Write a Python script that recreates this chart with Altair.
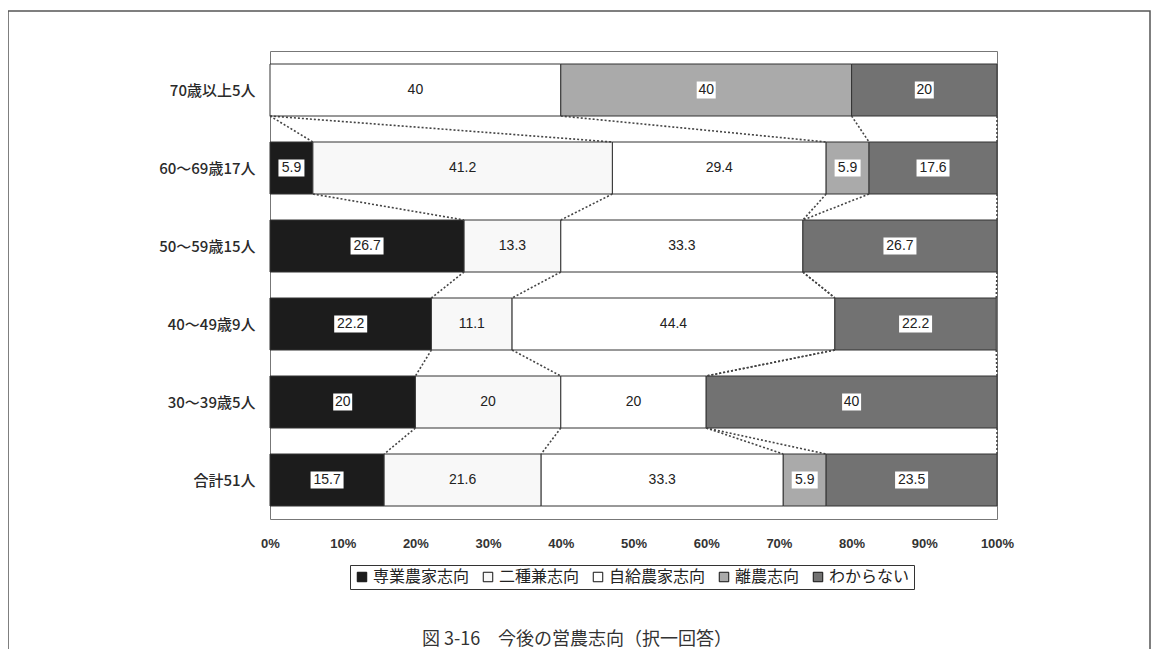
import altair as alt
import pandas as pd

categories = ["70歳以上5人", "60～69歳17人", "50～59歳15人", "40～49歳9人", "30～39歳5人", "合計51人"]
series = ["専業農家志向", "二種兼志向", "自給農家志向", "離農志向", "わからない"]
senju = [0, 5.9, 26.7, 22.2, 20, 15.7]
nishu = [0, 41.2, 13.3, 11.1, 20, 21.6]
jikyu = [40, 29.4, 33.3, 44.4, 20, 33.3]
rino = [40, 5.9, 0, 0, 0, 5.9]
wakaranai = [20, 17.6, 26.7, 22.2, 40, 23.5]
colors = ["#1c1c1c", "#f8f8f8", "#ffffff", "#aaaaaa", "#727272"]
boxed = ["専業農家志向", "離農志向", "わからない"]
ticks = list(range(0, 101, 10))
caption = "図 3-16　今後の営農志向（択一回答）"

values = [senju, nishu, jikyu, rino, wakaranai]
HALF = 1 / 3

rows = []
ends = []
for i, cat in enumerate(categories):
    cum = 0.0
    row_end = []
    for s, vals in zip(series, values):
        v = vals[i]
        start = cum
        cum += v
        row_end.append(cum)
        rows.append(dict(cat=cat, idx=i, series=s, value=v, start=start, end=cum,
                         mid=(start + cum) / 2, y=i + 0.5 - HALF, y2=i + 0.5 + HALF,
                         yc=i + 0.5, label=f"{v:g}"))
    ends.append(row_end)
df = pd.DataFrame(rows)
df_bars = df[df["value"] > 0].copy()


def box_path(n):
    hw = (7 * n + 5) / 40
    hh = 0.425
    return f"M{-hw},{-hh}L{hw},{-hh}L{hw},{hh}L{-hw},{hh}Z"


df_bars["box"] = df_bars["label"].map(lambda t: box_path(len(t)))
df_boxes = df_bars[df_bars["series"].isin(boxed)]

conn = []
for i in range(len(categories) - 1):
    for k, s in enumerate(series):
        conn.append(dict(series=s, x=ends[i][k], x2=ends[i + 1][k],
                         y=i + 0.5 + HALF, y2=i + 1.5 - HALF))
df_conn = pd.DataFrame(conn)

label_expr = "[" + ",".join(f"'{c}'" for c in categories) + "][floor(datum.value)]"

xscale = alt.Scale(domain=[0, 100], nice=False)
yscale = alt.Scale(domain=[0, len(categories)], reverse=True, nice=False)

bars = alt.Chart(df_bars).mark_bar(stroke="#333333", strokeWidth=1).encode(
    x=alt.X("start:Q", scale=xscale,
            axis=alt.Axis(values=ticks, labelExpr="datum.value + '%'", title=None,
                          grid=False, domain=False, ticks=False, labelPadding=18,
                          labelFlush=False,
                          labelFont="Liberation Sans Narrow, Liberation Sans",
                          labelFontSize=13, labelColor="#333", labelFontWeight="bold")),
    x2="end:Q",
    y=alt.Y("y:Q", scale=yscale,
            axis=alt.Axis(values=[i + 0.5 for i in range(len(categories))],
                          labelExpr=label_expr, title=None, grid=False, domain=False,
                          ticks=False, labelPadding=15, labelFont="Noto Sans CJK JP",
                          labelFontSize=15, labelColor="#2a2a2a", labelFontWeight=500)),
    y2="y2:Q",
    color=alt.Color("series:N", scale=alt.Scale(domain=series, range=colors),
                    legend=alt.Legend(orient="none", legendX=80, legendY=514,
                                      direction="horizontal", title=None,
                                      symbolType="square", symbolSize=90,
                                      symbolStrokeColor="#111", symbolStrokeWidth=1,
                                      labelFont="Noto Sans CJK JP", labelFontSize=16,
                                      labelColor="#222", strokeColor="#333",
                                      padding=4, columnPadding=10, labelOffset=3)),
)

connectors = alt.Chart(df_conn).mark_rule(strokeDash=[2, 2], strokeWidth=1.6,
                                           color="#444").encode(
    x="x:Q", x2="x2:Q", y="y:Q", y2="y2:Q")

boxes = alt.Chart(df_boxes).mark_point(filled=True, fill="white", opacity=1,
                                       strokeWidth=0, size=1600).encode(
    x="mid:Q", y="yc:Q", shape=alt.Shape("box:N", scale=None))

labels = alt.Chart(df_bars).mark_text(font="Liberation Sans Narrow, Liberation Sans",
                                      fontSize=14, color="#222", baseline="middle").encode(
    x="mid:Q", y="yc:Q", text="label:N")

frame = alt.Chart(pd.DataFrame({"c": [caption]})).mark_rect(
    fill=None, stroke="#555", strokeWidth=1.5).encode(
    x=alt.value(-262), x2=alt.value(880), y=alt.value(-40), y2=alt.value(700))

cap = alt.Chart(pd.DataFrame({"c": [caption]})).mark_text(
    font="Noto Sans CJK JP", fontSize=18, color="#333").encode(
    x=alt.value(307), y=alt.value(589), text="c:N")

chart = alt.layer(frame, bars, connectors, boxes, labels, cap).properties(
    width=727, height=468,
    autosize=alt.AutoSizeParams(type="none"),
    padding={"left": 262, "top": 43, "right": 155, "bottom": 130},
).configure_view(stroke="#777", strokeWidth=1)

chart.save("out.html", embed_options={"renderer": "svg", "actions": False})
